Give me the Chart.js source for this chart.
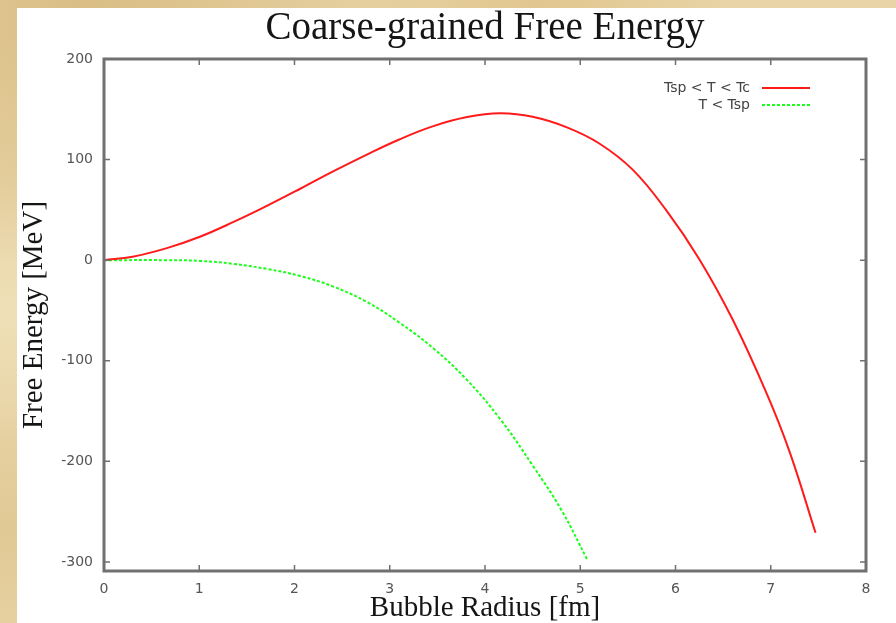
<!DOCTYPE html>
<html>
<head>
<meta charset="utf-8">
<script src="https://cdn.jsdelivr.net/npm/chart.js@4.4.1/dist/chart.umd.min.js"></script>
<style>
  html, body { margin: 0; padding: 0; }
  body {
    width: 896px; height: 623px; overflow: hidden; position: relative;
    background-color: #e8d4a6;
    background-image:
      radial-gradient(ellipse at 10% 2%, rgba(205,170,105,0.55), transparent 30%),
      radial-gradient(ellipse at 60% 0%, rgba(215,180,115,0.45), transparent 25%),
      radial-gradient(ellipse at 0% 50%, rgba(242,228,190,0.7), transparent 30%),
      radial-gradient(ellipse at 1% 85%, rgba(215,185,125,0.4), transparent 20%);
  }
  #panel {
    position: absolute; left: 17px; top: 8px; width: 879px; height: 615px;
    background: #ffffff;
  }
</style>
</head>
<body>
<div id="panel"><canvas id="myChart"></canvas></div>
<script>
// Bubble radius [fm] / free energy [MeV]
let radiusRed = [0, 0.3, 0.66, 1.0, 1.36, 1.71, 2.06, 2.4, 2.76, 3.1, 3.45, 3.8,
    4.16, 4.5, 4.86, 5.2, 5.55, 5.9, 6.25, 6.6, 6.95, 7.2, 7.47];
let energyRed = [0, 3.5, 12, 23, 38, 54, 71, 88, 105, 120, 133, 142,
    146, 142.5, 132, 116, 90, 50, 1, -59, -131, -191, -271];

let radiusGreen = [0, 0.66, 1.0, 1.36, 1.71, 2.06, 2.4, 2.76, 3.1, 3.45, 3.8,
    4.16, 4.5, 4.8, 5.07];
let energyGreen = [0, 0, -0.7, -3.7, -8.7, -15.7, -26, -41.5, -62, -87, -118,
    -158, -204, -248, -297];

let seriesNames = ['Tsp < T < Tc', 'T < Tsp'];
let xTicks = [0, 1, 2, 3, 4, 5, 6, 7, 8];
let yTicks = [-300, -200, -100, 0, 100, 200];

function toPoints(xs, ys) {
    return xs.map((x, i) => ({ x: x, y: ys[i] }));
}

// gnuplot style frame, inward ticks and inside legend
const framePlugin = {
    id: 'frame',
    afterDatasetsDraw(chart) {
        const ctx = chart.ctx;
        const a = chart.chartArea;
        const xs = chart.scales.x, ys = chart.scales.y;
        ctx.save();
        ctx.strokeStyle = '#707070';
        ctx.lineWidth = 1.5;
        ctx.beginPath();
        xTicks.forEach(v => {
            let px = xs.getPixelForValue(v);
            ctx.moveTo(px, a.bottom); ctx.lineTo(px, a.bottom - 6);
            ctx.moveTo(px, a.top); ctx.lineTo(px, a.top + 6);
        });
        yTicks.forEach(v => {
            let py = ys.getPixelForValue(v);
            ctx.moveTo(a.left, py); ctx.lineTo(a.left + 6, py);
            ctx.moveTo(a.right, py); ctx.lineTo(a.right - 6, py);
        });
        ctx.stroke();
        ctx.lineWidth = 3;
        ctx.strokeRect(a.left, a.top, a.right - a.left, a.bottom - a.top);

        // legend
        ctx.font = '14px "DejaVu Sans"';
        ctx.textAlign = 'right';
        ctx.textBaseline = 'middle';
        chart.data.datasets.forEach((ds, i) => {
            let y = a.top + 29 + i * 17;
            ctx.fillStyle = '#444';
            ctx.fillText(ds.label, a.right - 116, y);
            ctx.strokeStyle = ds.borderColor;
            ctx.lineWidth = ds.borderWidth;
            ctx.setLineDash(ds.borderDash || []);
            ctx.beginPath();
            ctx.moveTo(a.right - 104, y);
            ctx.lineTo(a.right - 56, y);
            ctx.stroke();
            ctx.setLineDash([]);
        });
        ctx.restore();
    }
};

let ctx = document.getElementById('myChart').getContext('2d');
let myChart = new Chart(ctx, {
    type: 'line',
    data: {
        datasets: [{
            label: seriesNames[0],
            data: toPoints(radiusRed, energyRed),
            borderColor: '#ff1a1a',
            borderWidth: 2,
            pointRadius: 0,
            tension: 0.4
        }, {
            label: seriesNames[1],
            data: toPoints(radiusGreen, energyGreen),
            borderColor: '#1aff1a',
            borderWidth: 2,
            borderDash: [3, 2],
            pointRadius: 0,
            tension: 0.4
        }]
    },
    options: {
        responsive: true,
        maintainAspectRatio: false,
        animation: false,
        layout: { padding: { left: 0, right: 30, top: 0, bottom: 0 } },
        plugins: {
            legend: { display: false },
            tooltip: { enabled: false },
            title: {
                display: true,
                text: 'Coarse-grained Free Energy',
                fullSize: false,
                color: '#151515',
                font: { family: '"Liberation Serif"', size: 39, weight: 'normal', lineHeight: 1.0 },
                padding: { top: 1, bottom: 11 }
            }
        },
        scales: {
            x: {
                type: 'linear',
                min: 0,
                max: 8,
                afterBuildTicks: s => { s.ticks = xTicks.map(v => ({ value: v })); },
                afterFit: s => { s.height = 52; },
                grid: { display: false, drawTicks: false },
                border: { display: false },
                ticks: { color: '#555', padding: 10, font: { family: '"DejaVu Sans"', size: 14 } },
                title: {
                    display: true,
                    text: 'Bubble Radius [fm]',
                    color: '#151515',
                    padding: 0,
                    font: { family: '"Liberation Serif"', size: 29, lineHeight: 1.0 }
                }
            },
            y: {
                type: 'linear',
                min: -309,
                max: 200,
                afterBuildTicks: s => { s.ticks = yTicks.map(v => ({ value: v })); },
                afterFit: s => { s.width = 87; },
                grid: { display: false, drawTicks: false },
                border: { display: false },
                ticks: { color: '#555', padding: 11, font: { family: '"DejaVu Sans"', size: 14 } },
                title: {
                    display: true,
                    text: 'Free Energy [MeV]',
                    color: '#151515',
                    padding: 0,
                    font: { family: '"Liberation Serif"', size: 29, lineHeight: 1.2 }
                }
            }
        }
    },
    plugins: [framePlugin]
});
</script>
</body>
</html>
